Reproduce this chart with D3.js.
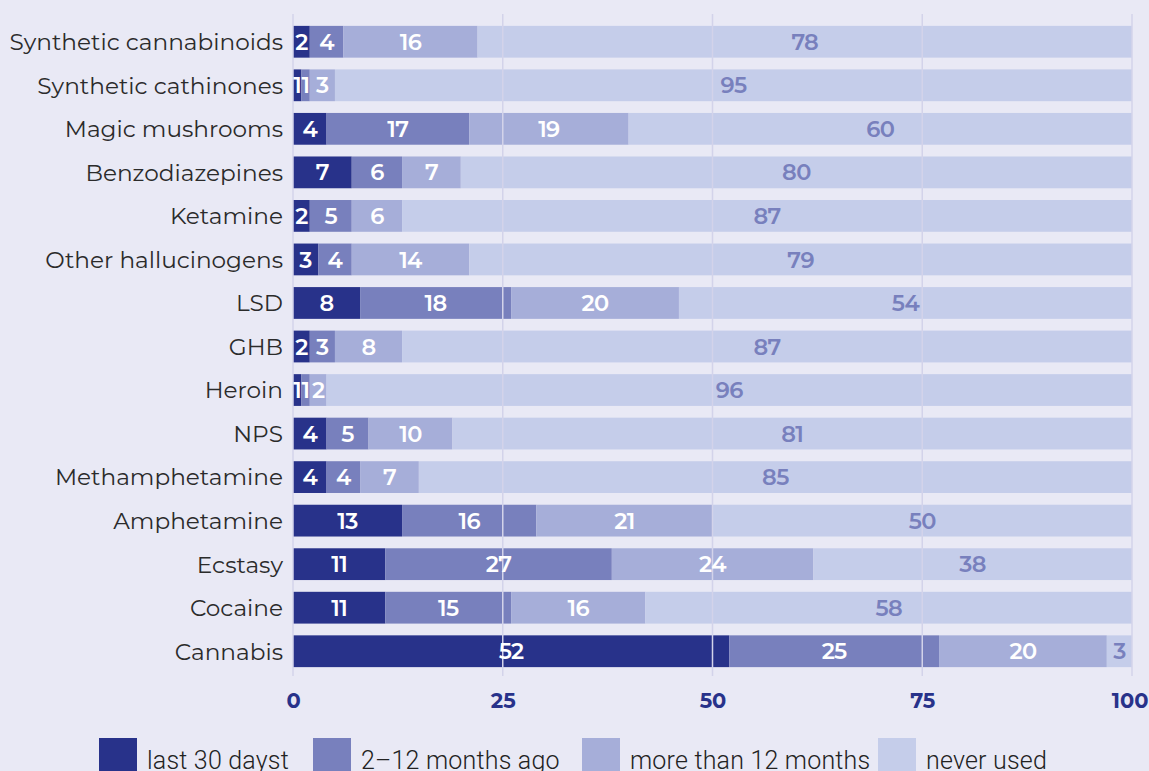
<!DOCTYPE html>
<html>
<head>
<meta charset="utf-8">
<script src="https://cdn.jsdelivr.net/npm/d3@7"></script>
<style>
  html, body { margin: 0; padding: 0; background: #e9e9f5; overflow: hidden; }
  svg { display: block; }
</style>
</head>
<body>
<svg id="chart"></svg>
<script>
(function() {
    'use strict';

    var categories = ['Synthetic cannabinoids', 'Synthetic cathinones', 'Magic mushrooms', 'Benzodiazepines',
        'Ketamine', 'Other hallucinogens', 'LSD', 'GHB', 'Heroin', 'NPS', 'Methamphetamine',
        'Amphetamine', 'Ecstasy', 'Cocaine', 'Cannabis'];
    var seriesNames = ['last 30 dayst', '2\u201312 months ago', 'more than 12 months', 'never used'];
    var last30 = [2, 1, 4, 7, 2, 3, 8, 2, 1, 4, 4, 13, 11, 11, 52];
    var months2to12 = [4, 1, 17, 6, 5, 4, 18, 3, 1, 5, 4, 16, 27, 15, 25];
    var moreThan12 = [16, 3, 19, 7, 6, 14, 20, 8, 2, 10, 7, 21, 24, 16, 20];
    var neverUsed = [78, 95, 60, 80, 87, 79, 54, 87, 96, 81, 85, 50, 38, 58, 3];
    var ticks = [0, 25, 50, 75, 100];

    var colors = ['#28328a', '#7880bd', '#a6aed9', '#c5cdea'];
    var labelColors = ['#ffffff', '#ffffff', '#ffffff', '#7880bd'];

    var W = 1149, H = 771;
    var svg = d3.select('#chart').attr('width', W).attr('height', H);

    var x = d3.scaleLinear().domain([0, 100]).range([293, 1132]);
    var y = d3.scaleBand().domain(categories).range([20, 673]).paddingInner(0.27).paddingOuter(0.135);

    var series = [last30, months2to12, moreThan12, neverUsed];
    var rows = categories.map(function(c, i) {
        var o = { cat: c };
        series.forEach(function(s, k) { o['s' + k] = s[i]; });
        return o;
    });
    var stacked = d3.stack().keys(['s0', 's1', 's2', 's3'])(rows);

    // bars
    var layers = svg.selectAll('g.layer')
        .data(stacked)
        .enter().append('g')
        .attr('class', 'layer')
        .attr('fill', function(d, i) { return colors[i]; });

    layers.selectAll('rect')
        .data(function(d) { return d; })
        .enter().append('rect')
        .attr('x', function(d) { return x(d[0]); })
        .attr('y', function(d) { return y(d.data.cat); })
        .attr('width', function(d) { return x(d[1]) - x(d[0]); })
        .attr('height', y.bandwidth());

    // grid lines on top of the bars
    svg.selectAll('line.grid')
        .data(ticks)
        .enter().append('line')
        .attr('class', 'grid')
        .attr('x1', function(d) { return x(d); })
        .attr('x2', function(d) { return x(d); })
        .attr('y1', 14)
        .attr('y2', 676)
        .attr('stroke', '#d3d3ea')
        .attr('stroke-width', 1.5);

    // value labels
    stacked.forEach(function(layer, k) {
        svg.selectAll('text.v' + k)
            .data(layer)
            .enter().append('text')
            .attr('class', 'v' + k)
            .attr('x', function(d) { return (x(d[0]) + x(d[1])) / 2; })
            .attr('y', function(d) { return y(d.data.cat) + y.bandwidth() / 2; })
            .attr('dy', '0.36em')
            .attr('text-anchor', 'middle')
            .attr('font-family', 'Montserrat, "Noto Sans", sans-serif')
            .attr('font-weight', 600)
            .attr('font-size', 22.5)
            .attr('letter-spacing', -0.6)
            .attr('fill', labelColors[k])
            .text(function(d) { return d[1] - d[0]; });
    });

    // category labels
    svg.selectAll('text.cat')
        .data(categories)
        .enter().append('text')
        .attr('class', 'cat')
        .attr('x', 283)
        .attr('y', function(d) { return y(d) + y.bandwidth() / 2; })
        .attr('dy', '0.36em')
        .attr('text-anchor', 'end')
        .attr('font-family', 'Montserrat, "Noto Sans", sans-serif')
        .attr('font-size', 23.2)
        .attr('fill', '#2b2b2b')
        .text(function(d) { return d; });

    // x axis
    var axis = svg.append('g')
        .attr('transform', 'translate(0,700)')
        .call(d3.axisBottom(x).tickValues(ticks).tickSize(0).tickPadding(0));
    axis.select('.domain').remove();
    axis.selectAll('text')
        .attr('dy', '0.36em')
        .attr('font-family', 'Montserrat, "Noto Sans", sans-serif')
        .attr('font-weight', 700)
        .attr('font-size', 21)
        .attr('fill', '#28328a')
        .attr('text-anchor', function(d) { return d === 100 ? 'end' : 'middle'; })
        .attr('dx', function(d) { return d === 100 ? 16 : 0; });

    // legend
    var legendX = [99, 313, 582, 878];
    var legend = svg.selectAll('g.legend')
        .data(seriesNames)
        .enter().append('g')
        .attr('class', 'legend')
        .attr('transform', function(d, i) { return 'translate(' + legendX[i] + ',738)'; });
    legend.append('rect')
        .attr('width', 38)
        .attr('height', 40)
        .attr('fill', function(d, i) { return colors[i]; });
    legend.append('text')
        .attr('x', 48)
        .attr('y', 31)
        .attr('font-family', 'Roboto, sans-serif')
        .attr('font-weight', 300)
        .attr('font-size', 25)
        .attr('letter-spacing', 0.2)
        .attr('fill', '#222')
        .text(function(d) { return d; });
})();
</script>
</body>
</html>
